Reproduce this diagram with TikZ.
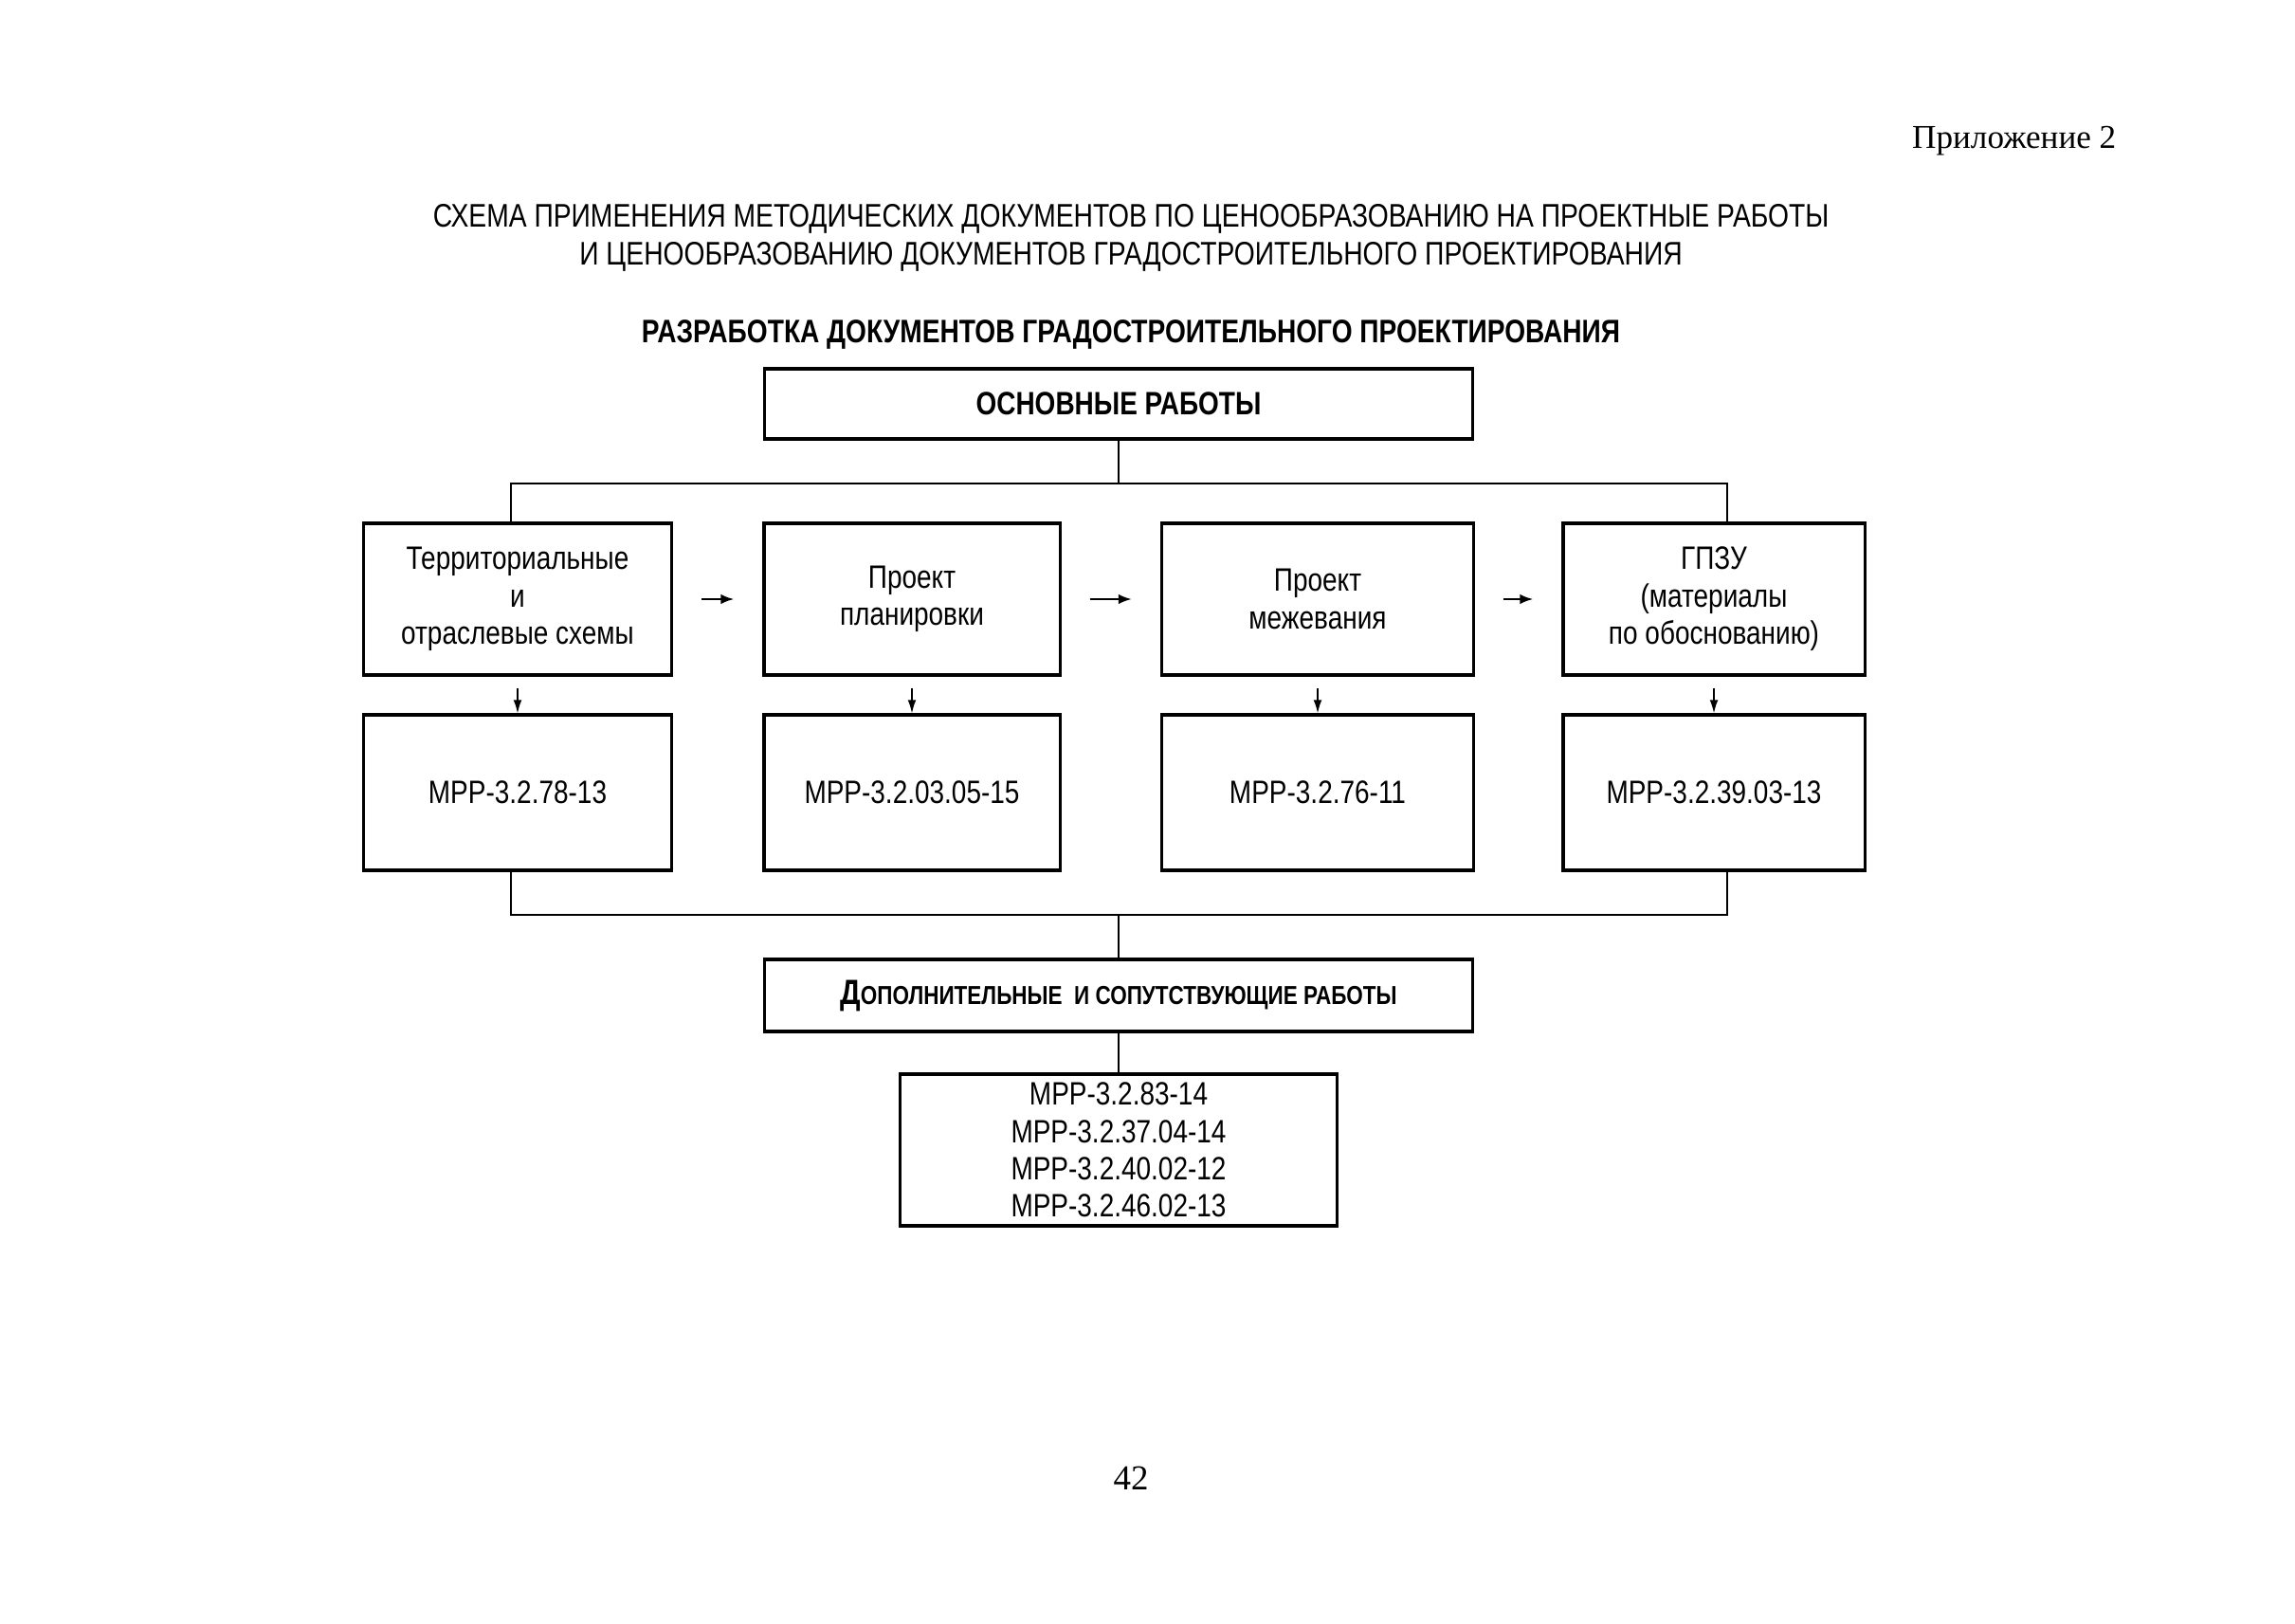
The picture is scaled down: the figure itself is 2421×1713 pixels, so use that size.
\documentclass[tikz,border=0pt]{standalone}
\usepackage{fontspec}
\setmainfont{Liberation Serif}
\newfontfamily\narrowsf[FakeStretch=0.82]{Liberation Sans}
\usetikzlibrary{arrows.meta, positioning, calc}

\begin{document}
\begin{tikzpicture}[
    x=0.01cm, y=-0.01cm,
    font=\narrowsf\fontsize{9.7}{11.2}\selectfont,
    box/.style={rectangle, draw=black, line width=0.9pt, inner sep=0pt,
                align=center, minimum width=#1},
    top/.style={box=#1, minimum height=1.60cm},
    low/.style={box=#1, minimum height=1.64cm},
    hdr/.style={box=7.47cm, minimum height=0.74cm, font=\narrowsf\bfseries\fontsize{9.7}{11.2}\selectfont},
    line/.style={line width=0.7pt},
    harr/.style={-{Latex[length=4pt, width=3pt]}, line width=0.6pt,
                 shorten <=0.3cm, shorten >=0.3cm},
    varr/.style={-{Latex[length=4pt, width=2.5pt]}, line width=0.4pt,
                 shorten <=0.12cm}
  ]
  \useasboundingbox (0,0) rectangle (2421,1713);

  \node[anchor=east, inner sep=0pt, font=\rmfamily\fontsize{10}{12}\selectfont] (app) at (2233,149) {Приложение 2};
  \node[align=center, font=\narrowsf\fontsize{9.8}{11.2}\selectfont] (ttl) at (1193,251)
    {СХЕМА ПРИМЕНЕНИЯ МЕТОДИЧЕСКИХ ДОКУМЕНТОВ ПО ЦЕНООБРАЗОВАНИЮ НА ПРОЕКТНЫЕ РАБОТЫ\\
     И ЦЕНООБРАЗОВАНИЮ ДОКУМЕНТОВ ГРАДОСТРОИТЕЛЬНОГО ПРОЕКТИРОВАНИЯ};
  \node[font=\narrowsf\bfseries\fontsize{9.75}{11.2}\selectfont] (sub) at (1193,353)
    {РАЗРАБОТКА ДОКУМЕНТОВ ГРАДОСТРОИТЕЛЬНОГО ПРОЕКТИРОВАНИЯ};

  \node[hdr] (osn) at (1180,426) {ОСНОВНЫЕ РАБОТЫ};

  \node[top=3.25cm] (t1) at (546,632) {Территориальные\\и\\отраслевые схемы};
  \node[top=3.12cm] (t2) at (962,632) {Проект\\планировки};
  \node[top=3.29cm] (t3) at (1390,632) {Проект\\межевания};
  \node[top=3.18cm] (t4) at (1808,632) {ГПЗУ\\(материалы\\по обоснованию)};

  \node[low=3.25cm] (b1) at (546,836) {МРР-3.2.78-13};
  \node[low=3.12cm] (b2) at (962,836) {МРР-3.2.03.05-15};
  \node[low=3.29cm] (b3) at (1390,836) {МРР-3.2.76-11};
  \node[low=3.18cm] (b4) at (1808,836) {МРР-3.2.39.03-13};

  \node[hdr, minimum height=0.76cm] (dop) at (1180,1050)
    {{\fontsize{10.5}{12}\selectfont Д}{\fontsize{7.8}{10}\selectfont ОПОЛНИТЕЛЬНЫЕ\ \ И СОПУТСТВУЮЩИЕ РАБОТЫ}};
  \node[box=4.61cm, minimum height=1.60cm] (lst) at (1180,1213)
    {МРР-3.2.83-14\\МРР-3.2.37.04-14\\МРР-3.2.40.02-12\\МРР-3.2.46.02-13};

  \node[font=\rmfamily\fontsize{10.5}{12}\selectfont] (num) at (1193,1559) {42};

  % branches
  \coordinate (busL) at (539,510);
  \coordinate (busR) at (1822,510);
  \coordinate (botL) at (539,965);
  \coordinate (botR) at (1822,965);

  \draw[line] (osn) -- (osn |- busL);
  \draw[line] (busL |- t1.north) -- (busL) -- (busR) -- (busR |- t4.north);
  \draw[line] (botL |- b1.south) -- (botL) -- (botR) -- (botR |- b4.south);
  \draw[line] (dop) -- (dop |- botL);
  \draw[line] (dop) -- (lst);

  \foreach \a/\b in {t1/t2, t2/t3, t3/t4}
    \draw[harr] (\a) -- (\b);
  \foreach \a/\b in {t1/b1, t2/b2, t3/b3, t4/b4}
    \draw[varr] (\a) -- (\b);

\end{tikzpicture}
\end{document}
